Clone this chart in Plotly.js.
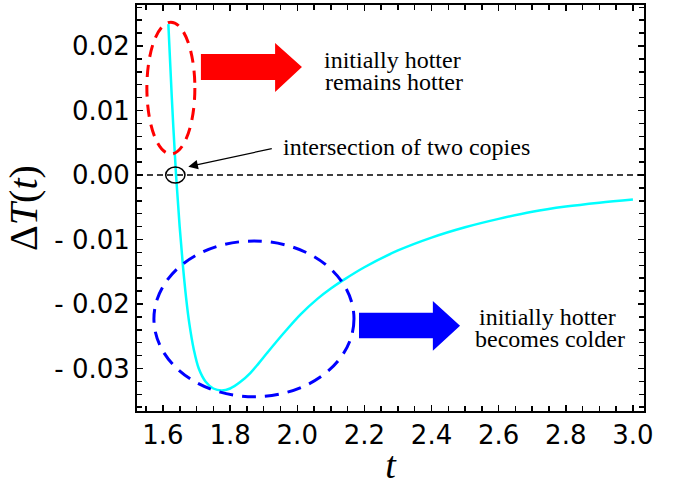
<!DOCTYPE html>
<html>
<head>
<meta charset="utf-8">
<script src="https://cdn.plot.ly/plotly-3.0.1.min.js"></script>
<style>html,body{margin:0;padding:0;background:#fff;}#chart{width:685px;height:487px;}</style>
</head>
<body>
<div id="chart"></div>
<script>
// Curve ΔT(t)
const tValues = [1.616, 1.6263, 1.6389, 1.6497, 1.6593, 1.6688, 1.6784, 1.6916, 1.7066, 1.7266, 1.750, 1.775, 1.800, 1.830, 1.860, 1.885, 1.910, 1.960, 2.010, 2.060, 2.100, 2.137, 2.200, 2.300, 2.400, 2.500, 2.600, 2.700, 2.800, 2.900, 3.000];
const dTValues = [0.0234, 0.0120, 0.0000, -0.0080, -0.0140, -0.0190, -0.0230, -0.0270, -0.0300, -0.0320, -0.0331, -0.0334, -0.0331, -0.0321, -0.0307, -0.0292, -0.0276, -0.0245, -0.0216, -0.0192, -0.0176, -0.0163, -0.0143, -0.0117, -0.0097, -0.0081, -0.0068, -0.0057, -0.0049, -0.0043, -0.0038];

const xTickVals = [1.6, 1.8, 2.0, 2.2, 2.4, 2.6, 2.8, 3.0];
const xTickText = ["1.6", "1.8", "2.0", "2.2", "2.4", "2.6", "2.8", "3.0"];
const yTickVals = [0.02, 0.01, 0.00, -0.01, -0.02, -0.03];
const yTickText = ["0.02", "0.01", "0.00", "- 0.01", "- 0.02", "- 0.03"];

const xRange = [1.5226, 3.033];
const yRange = [-0.03659, 0.02636];

// Annotation geometry (data coordinates)
const redEllipse = {x0: 1.552, x1: 1.695, y0: 0.00326, y1: 0.0237};
const blueEllipse = {x0: 1.573, x1: 2.169, y0: -0.03437, y1: -0.01023};
const smallCircle = {x0: 1.608, x1: 1.6655, y0: -0.00124, y1: 0.00124};
const redArrow = {xb0: 1.713, xb1: 1.934, xt: 2.014, yb0: 0.01473, yb1: 0.01876, yh0: 0.01287, yh1: 0.02047, ym: 0.01674};
const blueArrow = {xb0: 2.184, xb1: 2.404, xt: 2.485, yb0: -0.02532, yb1: -0.02135, yh0: -0.02724, yh1: -0.01953, ym: -0.02336};

function arrowPath(a) {
  return `M${a.xb0},${a.yb0} L${a.xb1},${a.yb0} L${a.xb1},${a.yh0} L${a.xt},${a.ym} L${a.xb1},${a.yh1} L${a.xb1},${a.yb1} L${a.xb0},${a.yb1} Z`;
}

const trace = {
  x: tValues, y: dTValues, type: 'scatter', mode: 'lines',
  line: {color: '#00FFFF', width: 2.5, shape: 'spline', smoothing: 1},
  hoverinfo: 'skip', showlegend: false
};

const serif = 'Liberation Serif, Times New Roman, serif';
const tickFont = {family: 'DejaVu Sans, sans-serif', size: 26, color: '#000'};
const noteFont = {family: serif, size: 24, color: '#000'};

const layout = {
  width: 685, height: 487,
  margin: {l: 137, r: 41, t: 5, b: 76},
  paper_bgcolor: '#fff', plot_bgcolor: '#fff',
  showlegend: false,
  xaxis: {
    range: xRange, tickvals: xTickVals, ticktext: xTickText,
    ticks: 'inside', ticklen: 6, tickwidth: 1.5, tickcolor: '#000',
    minor: {dtick: 0.05, tick0: 1.6, ticks: 'inside', ticklen: 5, tickwidth: 1.5, tickcolor: '#000'},
    showline: true, linewidth: 2, linecolor: '#000', mirror: 'allticks',
    showgrid: false, zeroline: false,
    tickfont: tickFont,
    title: {text: '<i>t</i>', font: {family: serif, size: 38, color: '#000'}, standoff: 2}
  },
  yaxis: {
    range: yRange, tickvals: yTickVals, ticktext: yTickText,
    ticks: 'inside', ticklen: 6, tickwidth: 1.5, tickcolor: '#000',
    minor: {dtick: 0.002, tick0: 0, ticks: 'inside', ticklen: 5, tickwidth: 1.5, tickcolor: '#000'},
    showline: true, linewidth: 2, linecolor: '#000', mirror: 'allticks',
    showgrid: false, zeroline: false,
    tickfont: tickFont,
    title: {text: 'Δ<i>T</i>(<i>t</i>)', font: {family: serif, size: 40, color: '#000'}, standoff: 4}
  },
  shapes: [
    {type: 'line', xref: 'paper', x0: 0, x1: 1, yref: 'y', y0: 0, y1: 0,
     line: {color: '#000', width: 1.5, dash: '6px,4px'}, layer: 'below'},
    {type: 'circle', xref: 'x', yref: 'y', ...redEllipse, line: {color: '#FF0000', width: 3, dash: '12px,8px'}},
    {type: 'circle', xref: 'x', yref: 'y', ...blueEllipse, line: {color: '#0000FF', width: 3, dash: '14px,9px'}},
    {type: 'circle', xref: 'x', yref: 'y', ...smallCircle, line: {color: '#000', width: 1.5}},
    {type: 'path', xref: 'x', yref: 'y', path: arrowPath(redArrow), fillcolor: '#FF0000', line: {width: 0}},
    {type: 'path', xref: 'x', yref: 'y', path: arrowPath(blueArrow), fillcolor: '#0000FF', line: {width: 0}}
  ],
  annotations: [
    {x: 1.6754, y: 0.00129, ax: 1.9286, ay: 0.00414, xref: 'x', yref: 'y', axref: 'x', ayref: 'y',
     text: '', showarrow: true, arrowhead: 2, arrowsize: 1.6, arrowwidth: 1.2, arrowcolor: '#000'},
    {x: 1.9515, y: 0.00434, xref: 'x', yref: 'y', xanchor: 'left', yanchor: 'middle',
     text: 'intersection of two copies', showarrow: false, font: noteFont},
    {x: 2.283, y: 0.01790, xref: 'x', yref: 'y', xanchor: 'center', yanchor: 'middle',
     text: 'initially hotter', showarrow: false, font: noteFont},
    {x: 2.289, y: 0.01445, xref: 'x', yref: 'y', xanchor: 'center', yanchor: 'middle',
     text: 'remains hotter', showarrow: false, font: noteFont},
    {x: 2.746, y: -0.02200, xref: 'x', yref: 'y', xanchor: 'center', yanchor: 'middle',
     text: 'initially hotter', showarrow: false, font: noteFont},
    {x: 2.752, y: -0.02550, xref: 'x', yref: 'y', xanchor: 'center', yanchor: 'middle',
     text: 'becomes colder', showarrow: false, font: noteFont}
  ]
};

Plotly.newPlot('chart', [trace], layout, {staticPlot: true, displayModeBar: false});
</script>
</body>
</html>
